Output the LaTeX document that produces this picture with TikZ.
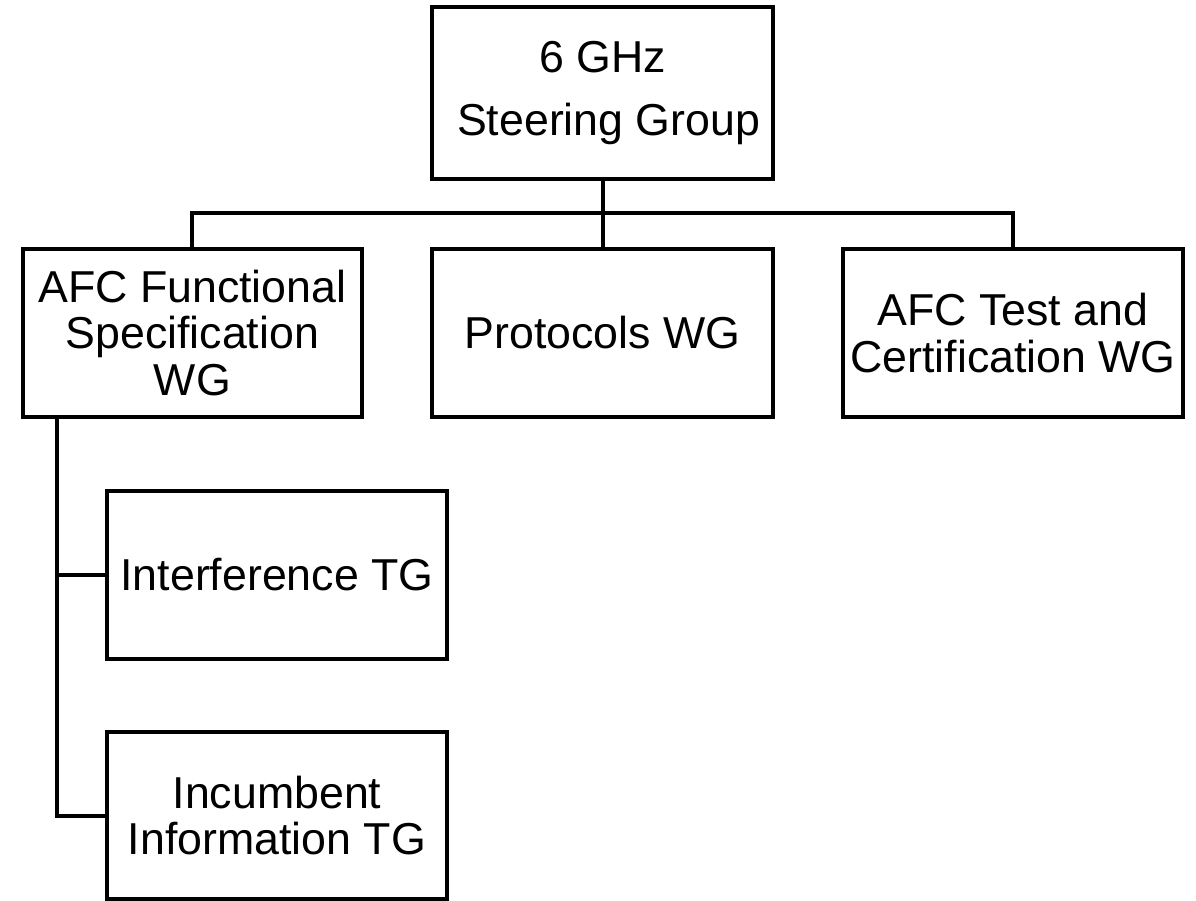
\documentclass[tikz,border=0pt]{standalone}
\usepackage{fontspec}
\setmainfont{Liberation Sans}
\begin{document}
\begin{tikzpicture}[x=1pt,y=-1pt,
  box/.style={draw,line width=4pt,rectangle,inner sep=0pt,align=center,
    font=\fontsize{44.7}{46.5}\selectfont},
  link/.style={line width=4pt}]
\useasboundingbox (0,0) rectangle (1196,900);
% steering group
\node[box,minimum width=341,minimum height=172] (sg) at (602.5,93)
  {6 GHz\\[16.5pt]\hspace*{12.4pt}Steering Group};
% working groups
\node[box,minimum width=339,minimum height=168] (afc) at (192.3,333)
  {AFC Functional\\Specification\\WG};
\node[box,minimum width=341,minimum height=168] (proto) at (602.5,333)
  {Protocols WG};
\node[box,minimum width=340,minimum height=168] (test) at (1013,333)
  {AFC Test and\\Certification WG};
% task groups
\node[box,minimum width=340,minimum height=168] (intf) at (277,575)
  {Interference TG};
\node[box,minimum width=340,minimum height=167] (incb) at (277,815.5)
  {Incumbent\\Information TG};
% connectors
\coordinate (bar) at (602.5,213);
\coordinate (spine) at (57,417);
\draw[link] (sg.south) -- (proto.north);
\draw[link] (afc.north) |- (bar) -| (test.north);
\draw[link] (spine) |- (intf.west);
\draw[link] (spine) |- (incb.west);
\end{tikzpicture}
\end{document}
